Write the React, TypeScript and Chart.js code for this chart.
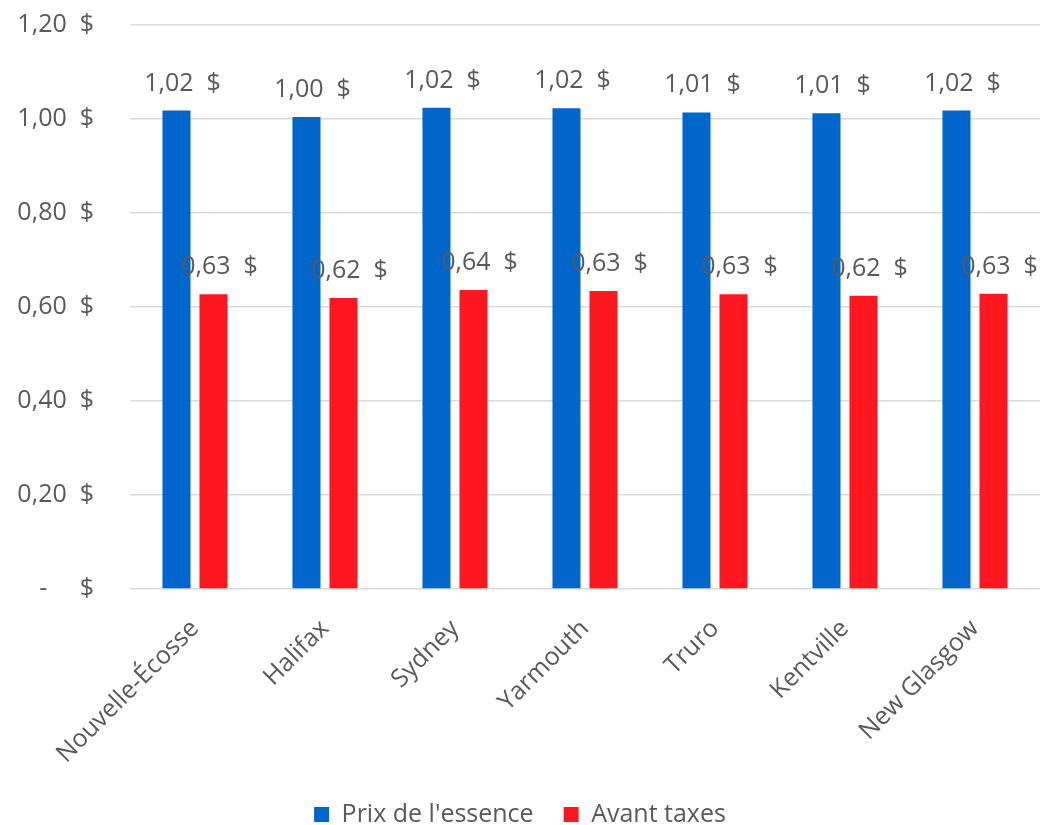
import React, { useEffect, useRef } from "react";
import { Chart, registerables } from "chart.js";

Chart.register(...registerables);

const categories = ["Nouvelle-Écosse", "Halifax", "Sydney", "Yarmouth", "Truro", "Kentville", "New Glasgow"];
const prixEssence = [1.018, 1.004, 1.024, 1.023, 1.014, 1.012, 1.018];
const avantTaxes = [0.627, 0.619, 0.636, 0.634, 0.627, 0.624, 0.628];
const seriesNames = ["Prix de l'essence", "Avant taxes"];
const yMin = 0;
const yMax = 1.2;
const yStep = 0.2;

const BLUE = "#0066CC";
const RED = "#FF171F";
const TEXT = "#595959";
const FONT = "'Open Sans', 'Noto Sans', sans-serif";
const FS = 25;

const money = (v: number) => (Math.abs(v) < 1e-9 ? "-     $" : v.toFixed(2).replace(".", ",") + "  $");

const labelPlugin = {
  id: "valueLabels",
  afterDatasetsDraw(chart: any) {
    const ctx = chart.ctx;
    ctx.save();
    ctx.font = `${FS}px ${FONT}`;
    ctx.fillStyle = TEXT;
    ctx.textAlign = "center";
    ctx.textBaseline = "alphabetic";
    chart.data.datasets.forEach((ds: any, di: number) => {
      const meta = chart.getDatasetMeta(di);
      meta.data.forEach((el: any, i: number) => {
        ctx.fillText(money(ds.data[i]), el.x + 6, el.y - 20);
      });
    });
    ctx.restore();
  },
};

export default function App() {
  const ref = useRef<HTMLCanvasElement>(null);
  useEffect(() => {
    document.body.style.margin = "0";
    const chart = new Chart(ref.current as HTMLCanvasElement, {
      type: "bar",
      data: {
        labels: categories,
        datasets: [
          { label: seriesNames[0], data: prixEssence, backgroundColor: BLUE },
          { label: seriesNames[1], data: avantTaxes, backgroundColor: RED },
        ],
      },
      options: {
        animation: false,
        responsive: false,
        maintainAspectRatio: false,
        datasets: { bar: { barPercentage: 0.757, categoryPercentage: 0.57 } },
        layout: { padding: { top: 25, right: 5, left: 0, bottom: -12 } },
        plugins: {
          tooltip: { enabled: false },
          legend: {
            position: "bottom",
            labels: {
              boxWidth: 15,
              boxHeight: 15,
              padding: 30,
              color: TEXT,
              font: { family: FONT, size: FS },
            },
          },
        },
        scales: {
          x: {
            grid: { display: false, drawTicks: false },
            border: { display: false },
            afterFit: (s: any) => {
              s.height = 183;
            },
            ticks: {
              color: TEXT,
              font: { family: FONT, size: FS },
              maxRotation: 45,
              minRotation: 45,
              padding: 25,
              autoSkip: false,
            },
          },
          y: {
            min: yMin,
            max: yMax,
            grid: { color: "#D9D9D9", lineWidth: 1.5, drawTicks: false },
            border: { display: false },
            afterFit: (s: any) => {
              s.width = 130;
              s.paddingTop = 0;
              s.paddingBottom = 0;
            },
            ticks: {
              stepSize: yStep,
              padding: 36,
              color: TEXT,
              font: { family: FONT, size: FS },
              callback: (v: any) => money(Number(v)),
            },
          },
        },
      },
      plugins: [labelPlugin],
    });
    return () => chart.destroy();
  }, []);
  return (
    <div style={{ position: "absolute", left: 0, top: 0, width: 1045, height: 825 }}>
      <canvas ref={ref} width={1045} height={825} />
    </div>
  );
}
